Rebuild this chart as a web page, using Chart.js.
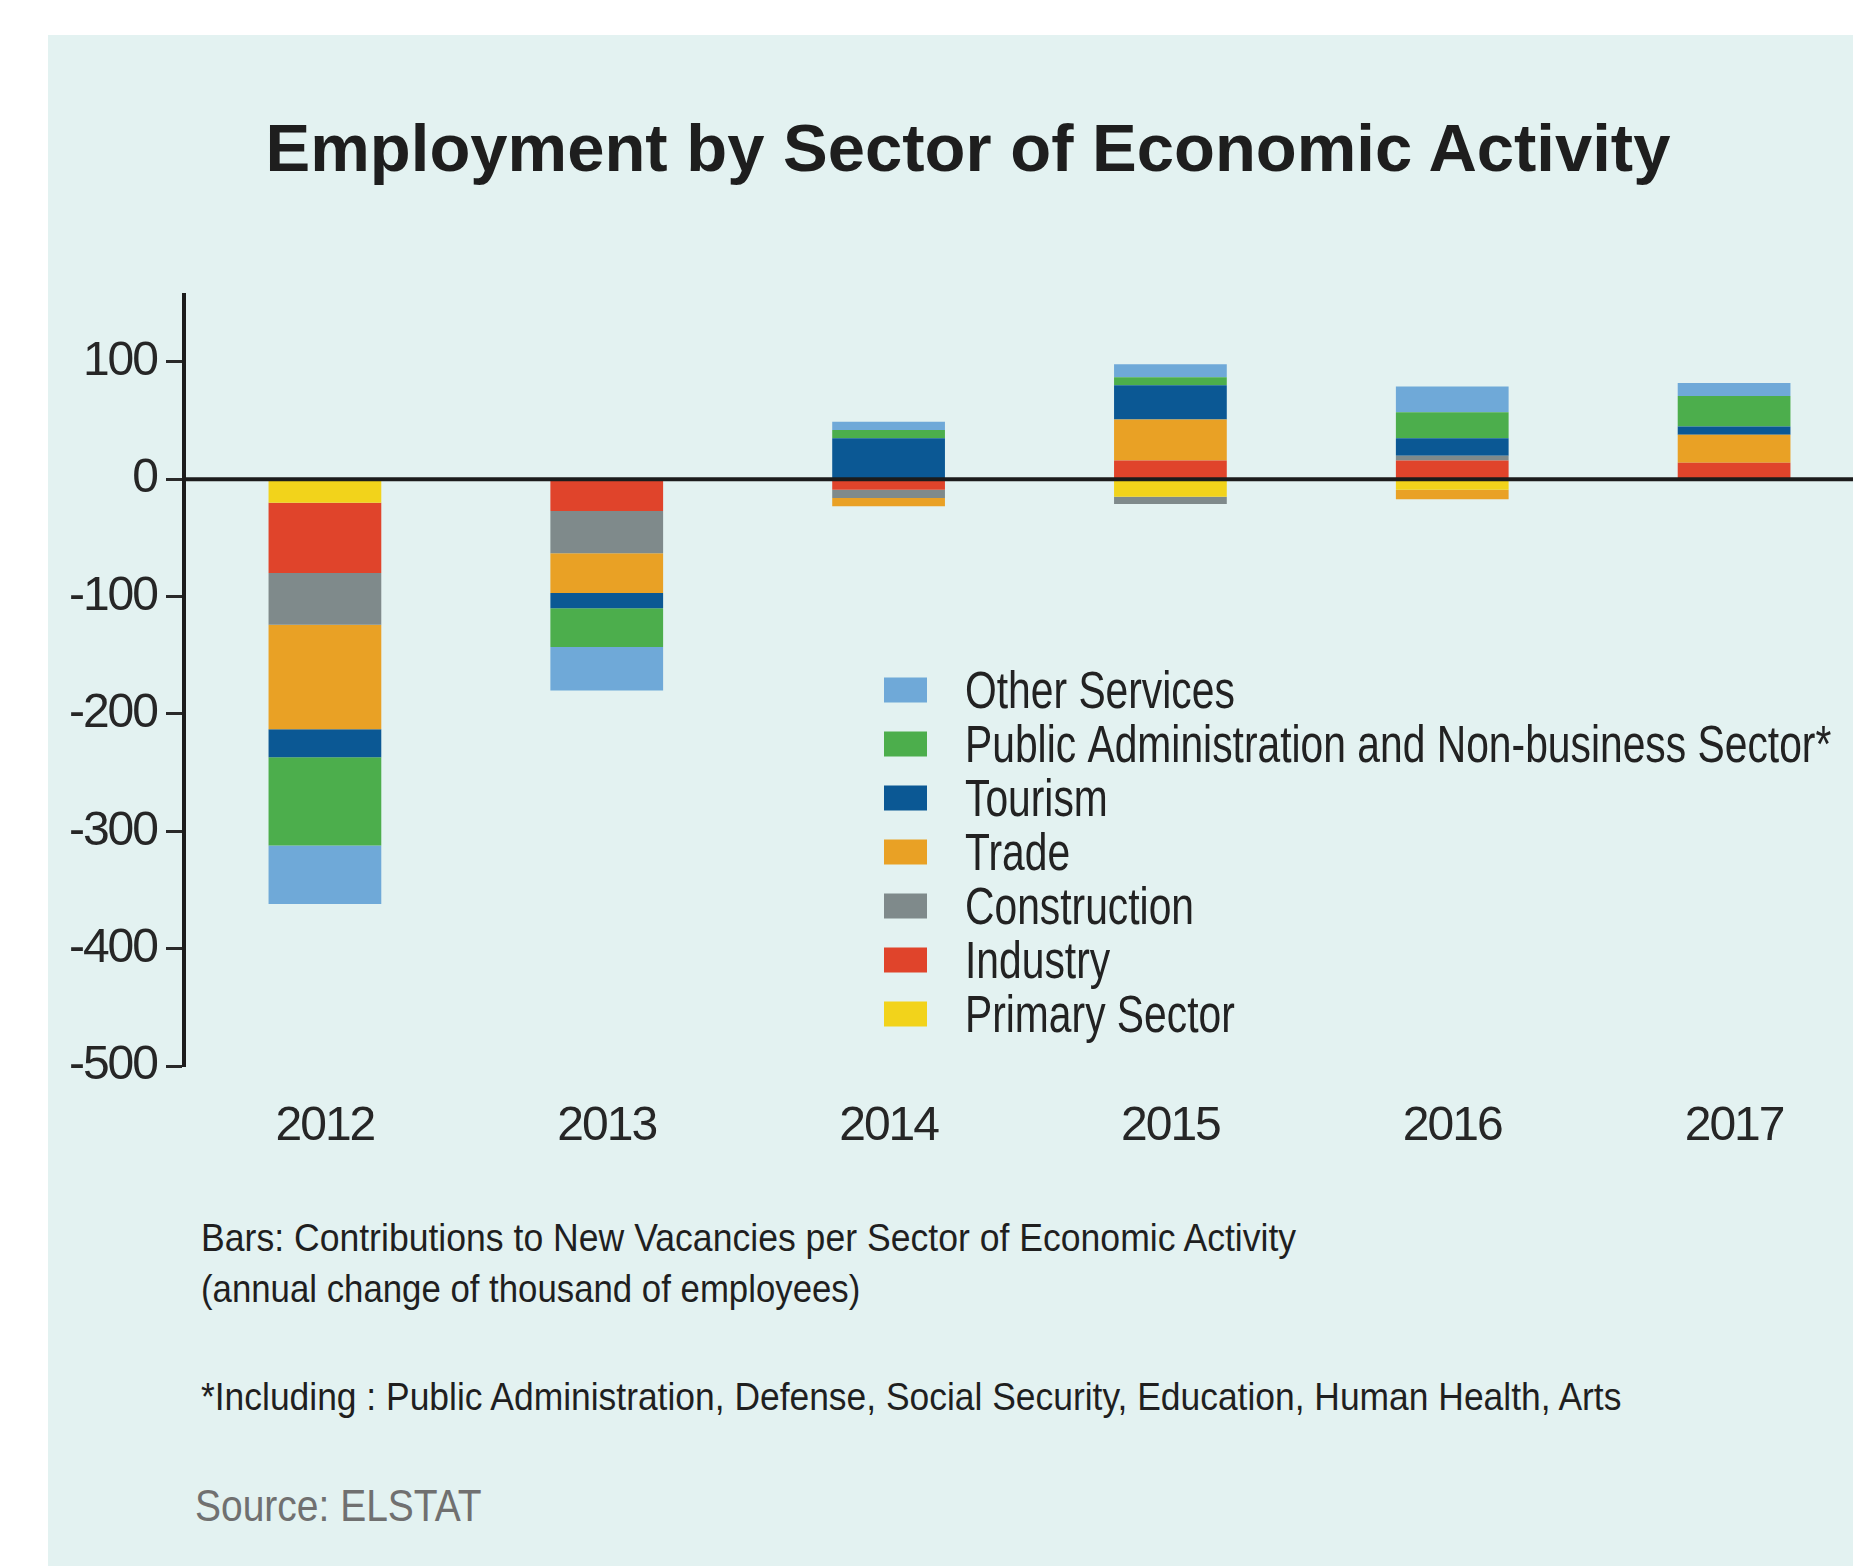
<!DOCTYPE html>
<html>
<head>
<meta charset="utf-8">
<script src="https://cdn.jsdelivr.net/npm/chart.js@4.4.1/dist/chart.umd.min.js"></script>
<style>
html,body{margin:0;padding:0;width:1853px;height:1566px;overflow:hidden;background:#ffffff;}
#panel{position:absolute;left:48px;top:35px;width:1900px;height:1600px;background:#e3f2f1;}
#wrap{position:absolute;left:0;top:0;width:1880px;height:1200px;}
.note{position:absolute;white-space:nowrap;line-height:1;transform-origin:0 0;
  font-family:'Liberation Sans',Arial,sans-serif;}
#title{position:absolute;left:968px;top:114px;transform:translateX(-50%);white-space:nowrap;line-height:1;
  font-family:'Liberation Sans',Arial,sans-serif;font-weight:bold;font-size:67px;color:#1e1e1e;}
</style>
</head>
<body>
<div id="panel"></div>
<div id="title">Employment by Sector of Economic Activity</div>
<div id="wrap"><canvas id="c"></canvas></div>
<div class="note" data-w="1095" style="left:201px;top:1218px;font-size:39px;color:#1f1f1f;">Bars: Contributions to New Vacancies per Sector of Economic Activity</div>
<div class="note" data-w="659" style="left:201px;top:1269px;font-size:39px;color:#1f1f1f;">(annual change of thousand of employees)</div>
<div class="note" data-w="1420" style="left:201px;top:1377px;font-size:39px;color:#1f1f1f;">*Including : Public Administration, Defense, Social Security, Education, Human Health, Arts</div>
<div class="note" data-w="287" style="left:195px;top:1484px;font-size:44px;color:#707070;">Source: ELSTAT</div>
<script>
// ---- data ----
const years = ['2012', '2013', '2014', '2015', '2016', '2017'];
const primarySector = [-20, 0, 0, -15, -9, 0];
const industry = [-60, -27, -9, 16, 16, 14];
const construction = [-44, -36, -7, -6, 4, 0];
const trade = [-89, -34, -7, 35, -8, 24];
const tourism = [-24, -13, 35, 29, 15, 7];
const publicAdmin = [-75, -33, 7, 7, 22, 26];
const otherServices = [-50, -37, 7, 11, 22, 11];
const yTicks = [-500, -400, -300, -200, -100, 0, 100];
const yMin = -500;
const yMax = 157;

const seriesLabels = ['Primary Sector', 'Industry', 'Construction', 'Trade', 'Tourism',
  'Public Administration and Non-business Sector*', 'Other Services'];
const seriesValues = [primarySector, industry, construction, trade, tourism, publicAdmin, otherServices];
const seriesColors = ['#f2d31b', '#e0442b', '#7f8a8b', '#e9a125', '#0b5894', '#4cae4c', '#6fa9d8'];

const FONT = "'Liberation Sans', Arial, sans-serif";

// condense the footnote text horizontally to the reference widths
function fitNotes() {
  document.querySelectorAll('.note').forEach(el => {
    const w = el.offsetWidth;
    const target = parseFloat(el.dataset.w);
    if (w > 0) el.style.transform = 'scaleX(' + (target / w) + ')';
  });
}
fitNotes();
if (document.fonts && document.fonts.ready) document.fonts.ready.then(fitNotes);

const tightTextPlugin = {
  id: 'tightText',
  beforeDraw(chart, args, opts) { chart.ctx.letterSpacing = opts.spacing; },
  afterDraw(chart) { chart.ctx.letterSpacing = '0px'; }
};

const zeroLinePlugin = {
  id: 'zeroLine',
  afterDatasetsDraw(chart, args, opts) {
    const ctx = chart.ctx;
    const y = chart.scales.y.getPixelForValue(0);
    ctx.save();
    ctx.strokeStyle = opts.color;
    ctx.lineWidth = opts.width;
    ctx.beginPath();
    ctx.moveTo(chart.chartArea.left, y);
    ctx.lineTo(chart.chartArea.right, y);
    ctx.stroke();
    ctx.restore();
  }
};

const boxLegendPlugin = {
  id: 'boxLegend',
  afterDraw(chart, args, opts) {
    const ctx = chart.ctx;
    const ds = chart.data.datasets.slice().reverse();
    ds.forEach((d, i) => {
      const cy = opts.y + i * opts.rowGap;
      ctx.save();
      ctx.letterSpacing = '0px';
      ctx.fillStyle = d.backgroundColor;
      ctx.fillRect(opts.x, cy - opts.boxH / 2, opts.boxW, opts.boxH);
      ctx.font = opts.font;
      ctx.fillStyle = opts.color;
      ctx.textBaseline = 'alphabetic';
      ctx.textAlign = 'left';
      ctx.translate(opts.textX, cy + opts.baselineShift);
      ctx.scale(opts.squeeze, 1);
      ctx.fillText(d.label, 0, 0);
      ctx.restore();
    });
  }
};

new Chart(document.getElementById('c'), {
  type: 'bar',
  data: {
    labels: years,
    datasets: seriesLabels.map((lab, i) => ({
      label: lab,
      data: seriesValues[i],
      backgroundColor: seriesColors[i],
      borderWidth: 0,
      barPercentage: 0.4,
      categoryPercentage: 1.0
    }))
  },
  options: {
    responsive: true,
    maintainAspectRatio: false,
    devicePixelRatio: 1,
    animation: false,
    events: [],
    layout: { padding: { top: 295, left: 0, right: 5, bottom: 54 } },
    plugins: {
      legend: { display: false },
      title: { display: false },
      tooltip: { enabled: false },
      tightText: { spacing: '-2px' },
      zeroLine: { color: '#1c1c1c', width: 4 },
      boxLegend: {
        x: 884, textX: 965, y: 690, rowGap: 54, boxW: 43, boxH: 25,
        font: '51px ' + FONT, color: '#222222', baselineShift: 18, squeeze: 0.8
      }
    },
    scales: {
      x: {
        stacked: true,
        grid: { display: false },
        border: { display: false },
        ticks: { color: '#262626', padding: 24, font: { family: FONT, size: 48 } },
        afterFit: (s) => { s.height = 80; }
      },
      y: {
        stacked: true,
        min: yMin,
        max: yMax,
        afterBuildTicks: (s) => { s.ticks = yTicks.map(v => ({ value: v })); },
        afterFit: (s) => { s.width = 184; },
        grid: { drawOnChartArea: false, drawTicks: true, tickLength: 18, tickWidth: 3, tickColor: '#2a2a2a' },
        border: { display: true, color: '#1c1c1c', width: 4 },
        ticks: { color: '#262626', padding: 9, font: { family: FONT, size: 48 }, callback: (v) => String(v) }
      }
    }
  },
  plugins: [tightTextPlugin, zeroLinePlugin, boxLegendPlugin]
});
</script>
</body>
</html>
